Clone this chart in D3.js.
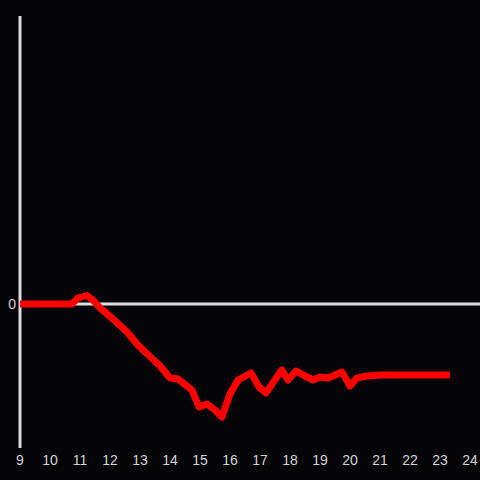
<!DOCTYPE html>
<html>
<head>
<meta charset="utf-8">
<script src="https://cdn.jsdelivr.net/npm/d3@7"></script>
<style>
  html, body { margin: 0; padding: 0; background: #050407; }
  svg { display: block; }
</style>
</head>
<body>
<div id="chart" style="width:480px;height:480px"></div>
<script>
// 时间（小时）
const hours = [9, 10.73, 10.93, 11.23, 11.43, 11.67, 12.1, 12.57, 12.9, 13.17, 13.67, 14.0, 14.27,
  14.73, 14.97, 15.23, 15.5, 15.73, 16.0, 16.27, 16.7, 16.97, 17.2, 17.47, 17.73, 17.93, 18.2,
  18.5, 18.77, 19.0, 19.27, 19.73, 20.0, 20.23, 20.57, 21.0, 23.33]
// 数值
const values = [0, 0, 0.6, 0.85, 0.4, -0.4, -1.5, -2.8, -4.0, -4.8, -6.2, -7.4, -7.5,
  -8.6, -10.3, -10.0, -10.6, -11.3, -9.0, -7.6, -6.9, -8.3, -8.9, -7.7, -6.6, -7.6, -6.7,
  -7.2, -7.6, -7.3, -7.4, -6.8, -8.2, -7.4, -7.2, -7.1, -7.1]
const xTicks = d3.range(9, 25)
const yTicks = [0]

const width = 480
const height = 480

const svg = d3.select("#chart").append("svg")
  .attr("width", width).attr("height", height)

svg.append("rect").attr("width", width).attr("height", height).attr("fill", "#050407")

const x = d3.scaleLinear().domain([9, 24]).range([20, 470])
const y = d3.scaleLinear().domain([-14.4, 28.8]).range([448, 16])

// y轴
svg.append("line")
  .attr("x1", x(9)).attr("x2", x(9))
  .attr("y1", y(28.8)).attr("y2", y(-14.4))
  .attr("stroke", "#dedede").attr("stroke-width", 3)

// 零线
svg.append("line")
  .attr("x1", x(9)).attr("x2", width)
  .attr("y1", y(0)).attr("y2", y(0))
  .attr("stroke", "#dedede").attr("stroke-width", 3)

// x轴刻度文字
svg.append("g")
  .selectAll("text")
  .data(xTicks)
  .enter()
  .append("text")
  .attr("x", d => x(d))
  .attr("y", 465)
  .attr("text-anchor", "middle")
  .attr("fill", "#d4d4d4")
  .attr("font-family", "Liberation Sans, Arial, sans-serif")
  .attr("font-size", 14)
  .text(d => d)

// y轴刻度文字
svg.append("g")
  .selectAll("text")
  .data(yTicks)
  .enter()
  .append("text")
  .attr("x", 16)
  .attr("y", d => y(d))
  .attr("dy", "0.35em")
  .attr("text-anchor", "end")
  .attr("fill", "#d4d4d4")
  .attr("font-family", "Liberation Sans, Arial, sans-serif")
  .attr("font-size", 14)
  .text(d => d)

// 折线
const line = d3.line()
  .x((d, i) => x(hours[i]))
  .y(d => y(d))

svg.append("path")
  .datum(values)
  .attr("d", line)
  .attr("fill", "none")
  .attr("stroke", "#ff0000")
  .attr("stroke-width", 7)
  .attr("stroke-linejoin", "round")
  .attr("stroke-linecap", "butt")
</script>
</body>
</html>
